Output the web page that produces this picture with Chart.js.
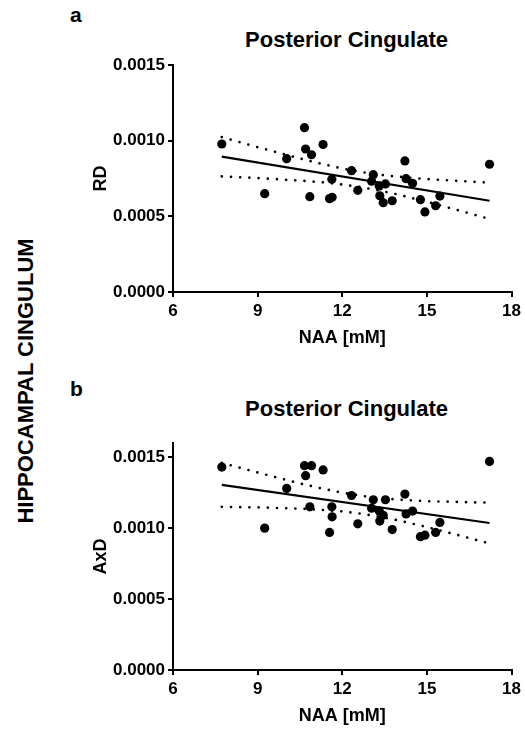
<!DOCTYPE html>
<html>
<head>
<meta charset="utf-8">
<script src="https://cdn.jsdelivr.net/npm/chart.js@4/dist/chart.umd.min.js"></script>
<style>
  html, body { margin: 0; padding: 0; background: #fff; }
  body { width: 525px; height: 731px; position: relative; overflow: hidden;
         font-family: "Liberation Sans", Arial, sans-serif; color: #000; }
  canvas { position: absolute; left: 0; }
  .lbl { position: absolute; font-weight: bold; line-height: 1; white-space: nowrap; }
  .ttl { left: 176px; width: 341px; text-align: center; font-size: 22px; }
  .side { left: 26px; top: 381px; font-size: 22px; transform: translate(-50%, -50%) rotate(-90deg); }
</style>
</head>
<body>
<div class="lbl" style="left:70px; top:4px; font-size:21px;">a</div>
<div class="lbl ttl" style="top:29px;">Posterior Cingulate</div>
<div class="lbl" style="left:70px; top:378px; font-size:21px;">b</div>
<div class="lbl ttl" style="top:398px;">Posterior Cingulate</div>
<div class="lbl side">HIPPOCAMPAL CINGULUM</div>
<canvas id="c1" width="525" height="350" style="top:0px;"></canvas>
<canvas id="c2" width="525" height="350" style="top:378px;"></canvas>
<script>
// ---- data ----
const naa = [7.73, 9.25, 10.03, 10.66, 10.70, 10.91, 10.85, 11.32, 11.55, 11.64, 11.63, 12.33, 12.55, 13.10,
             13.04, 13.31, 13.53, 13.33, 13.45, 13.77, 14.22, 14.26, 14.49, 14.77, 14.93, 15.31, 15.46, 17.22];
const rd  = [0.000978, 0.000650, 0.000881, 0.001086, 0.000945, 0.000907, 0.000630, 0.000974, 0.000617, 0.000626,
             0.000745, 0.000802, 0.000672, 0.000775, 0.000732, 0.000701, 0.000714, 0.000636, 0.000590, 0.000603,
             0.000866, 0.000749, 0.000718, 0.000610, 0.000529, 0.000570, 0.000634, 0.000844];
const axd = [0.00143, 0.00100, 0.00128, 0.00144, 0.00137, 0.00144, 0.00115, 0.00141, 0.00097, 0.00108,
             0.00115, 0.00123, 0.00103, 0.00120, 0.00114, 0.00112, 0.00120, 0.00105, 0.00109, 0.00099,
             0.00124, 0.00110, 0.00112, 0.00094, 0.00095, 0.00097, 0.00104, 0.00147];
// fitted line end points
const fitX   = [7.73, 17.22];
const rdFit  = [0.000894, 0.000603];
const axdFit = [0.001305, 0.001036];
// 95% confidence band (dotted)
const bandX    = [7.73, 9, 10.5, 11.3, 12, 12.7, 13.5, 13.9, 15, 16.5, 17.22];
const rdUpper  = [0.001024, 0.000957, 0.000882, 0.000845, 0.000816, 0.000792, 0.000771, 0.000763, 0.000746, 0.000730, 0.000723];
const rdLower  = [0.000764, 0.000753, 0.000736, 0.000725, 0.000710, 0.000692, 0.000663, 0.000647, 0.000596, 0.000520, 0.000483];
const axdUpper = [0.001460, 0.001392, 0.001315, 0.001278, 0.001250, 0.001227, 0.001208, 0.001202, 0.001190, 0.001182, 0.001180];
const axdLower = [0.001150, 0.001146, 0.001137, 0.001128, 0.001118, 0.001101, 0.001074, 0.001058, 0.001008, 0.000930, 0.000892];
const xTicks = [6, 9, 12, 15, 18];
const yTicks = [0, 0.0005, 0.0010, 0.0015];

const FONT = "'Liberation Sans', Arial, sans-serif";
const pts = (xs, ys) => xs.map((x, i) => ({x: x, y: ys[i]}));

function makeChart(id, ys, fit, up, lo, yTitle, yMax) {
  return new Chart(document.getElementById(id), {
    type: 'scatter',
    data: {
      datasets: [
        { data: pts(naa, ys), pointRadius: 4.6, pointBackgroundColor: '#000', pointBorderWidth: 0, showLine: false },
        { data: pts(fitX, fit), showLine: true, borderColor: '#000', borderWidth: 2.2, pointRadius: 0 },
        { data: pts(bandX, up), showLine: true, borderColor: '#000', borderWidth: 2.7, borderDash: [0, 9.2],
          borderCapStyle: 'round', pointRadius: 0, tension: 0 },
        { data: pts(bandX, lo), showLine: true, borderColor: '#000', borderWidth: 2.7, borderDash: [0, 9.2],
          borderCapStyle: 'round', pointRadius: 0, tension: 0 }
      ]
    },
    options: {
      responsive: false, animation: false, devicePixelRatio: 1,
      layout: { padding: { left: 90, top: 65, right: 11, bottom: 1 } },
      plugins: { legend: { display: false }, tooltip: { enabled: false } },
      scales: {
        x: {
          type: 'linear', min: xTicks[0], max: xTicks[xTicks.length - 1],
          afterBuildTicks: s => { s.ticks = xTicks.map(v => ({value: v})); },
          ticks: { color: '#000', font: { family: FONT, size: 17, weight: 'bold' }, padding: 4, maxRotation: 0,
                   callback: v => String(v) },
          grid: { drawOnChartArea: false, drawTicks: true, tickLength: 5, color: '#000', lineWidth: 2 },
          border: { display: true, color: '#000', width: 2 },
          title: { display: true, text: 'NAA [mM]', color: '#000', font: { family: FONT, size: 18, weight: 'bold' }, padding: 0 },
          afterFit: s => { s.height = 57; }
        },
        y: {
          type: 'linear', min: 0, max: yMax,
          afterBuildTicks: s => { s.ticks = yTicks.map(v => ({value: v})); },
          ticks: { color: '#000', font: { family: FONT, size: 17, weight: 'bold' }, padding: 3,
                   callback: v => Number(v).toFixed(4) },
          grid: { drawOnChartArea: false, drawTicks: true, tickLength: 5, color: '#000', lineWidth: 2 },
          border: { display: true, color: '#000', width: 2 },
          title: { display: true, text: yTitle, color: '#000', font: { family: FONT, size: 18, weight: 'bold' }, padding: 0 },
          afterFit: s => { s.width = 83; }
        }
      }
    }
  });
}

makeChart('c1', rd, rdFit, rdUpper, rdLower, 'RD', 0.0015);
makeChart('c2', axd, axdFit, axdUpper, axdLower, 'AxD', 0.0016);
</script>
</body>
</html>
